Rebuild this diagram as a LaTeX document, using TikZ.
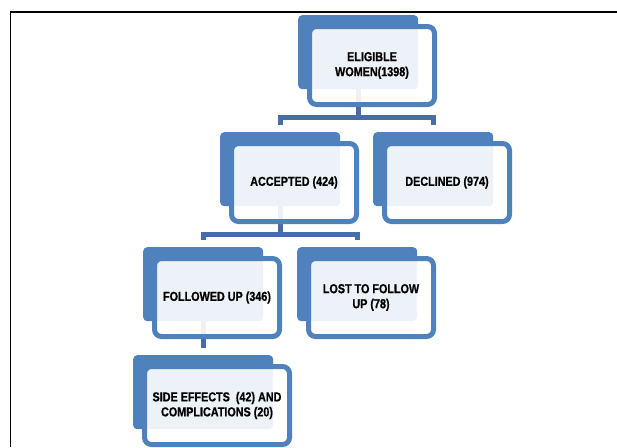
\documentclass[tikz,border=0pt]{standalone}
\usepackage{fontspec}
\newfontfamily\boxFont[FakeStretch=0.83, BoldFeatures={FakeBold=0.8}]{Liberation Sans}
\usetikzlibrary{positioning}
\definecolor{blockColor}{RGB}{79,129,189}
\definecolor{linkColor}{RGB}{72,108,168}
\tikzstyle{chart} = [x = 1pt, y = -1pt]
\tikzstyle{backStyle} = [rectangle, fill=blockColor, rounded corners = 4pt, inner sep = 0pt, minimum height = 74pt, anchor = north west]
\tikzstyle{frontStyle} = [rectangle, draw=blockColor, line width = 5pt, fill=white, fill opacity = 0.9, text opacity = 1, rounded corners = 7pt, inner sep = 0pt, minimum height = 78pt, align = center, text = black, font = \boxFont\bfseries\fontsize{13}{15}\selectfont]
\tikzstyle{linkLine} = [draw=linkColor, line width = 5pt, shorten > = 7pt]
\tikzstyle{frameLine} = [color=black, line width = 1.6pt]
\newcommand{\backBlock}[4]{\node [backStyle, minimum width = #4pt] (#1Back) at (#2, #3) {};}
\newcommand{\frontBlock}[3]{\node [frontStyle, minimum width = #2pt, below right = 9pt and 9pt of #1Back.north west] (#1) {#3};}

\begin{document}
\begin{tikzpicture}[chart]
  \useasboundingbox (0,0) rectangle (617,447);
  \draw [frameLine] (617,12) -| (10.5,447);

  % solid back blocks
  \backBlock{eligible}{298}{15}{120}
  \backBlock{accepted}{220}{132}{120}
  \backBlock{declined}{373}{132}{120}
  \backBlock{followed}{143}{247}{120}
  \backBlock{lost}{297}{247}{120}
  \backBlock{side}{133}{355}{140}

  % connectors
  \draw [linkLine] (eligibleBack.south) -- ++(0,28.5) -| (acceptedBack.north);
  \draw [linkLine] (eligibleBack.south) -- ++(0,28.5) -| (declinedBack.north);
  \draw [linkLine] (acceptedBack.south) -- ++(0,28) -| (followedBack.north);
  \draw [linkLine] (acceptedBack.south) -- ++(0,28) -| (lostBack.north);
  \draw [linkLine] (followedBack.south) -- (sideBack.north);

  % framed front blocks
  \frontBlock{eligible}{125}{ELIGIBLE\\WOMEN(1398)}
  \frontBlock{accepted}{125}{ACCEPTED (424)}
  \frontBlock{declined}{125}{DECLINED (974)}
  \frontBlock{followed}{125}{FOLLOWED UP (346)}
  \frontBlock{lost}{125}{LOST TO FOLLOW\\UP (78)}
  \frontBlock{side}{145}{SIDE EFFECTS~~(42) AND\\COMPLICATIONS (20)}
\end{tikzpicture}
\end{document}
